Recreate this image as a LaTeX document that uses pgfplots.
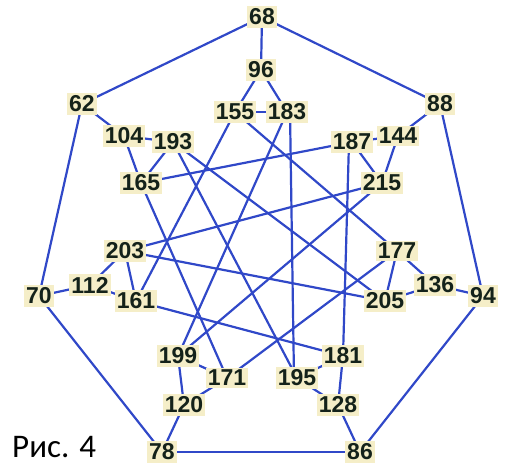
\documentclass[border=0pt]{standalone}
\usepackage{fontspec}
\setmainfont{Liberation Sans}
\newfontfamily\capfont{Carlito}
\usepackage{pgfplots}
\pgfplotsset{compat=1.18}
\usepackage{pgfplotstable}
\definecolor{edgeblue}{RGB}{48,72,200}
\definecolor{labfill}{RGB}{245,238,200}
\definecolor{labtext}{RGB}{20,34,26}
\pgfplotstableread{
x y lab
262 17 68
261 70 96
82 104 62
440 104 88
235 112 155
287 112 183
124 136 104
173 142 193
352 142 187
398 136 144
141 183 165
382 183 215
125 251 203
397 251 177
90 285 112
435 285 136
39 296 70
483 296 94
136 301 161
385 301 205
178 356 199
343 356 181
227 378 171
297 378 195
184 405 120
338 405 128
162 452 78
360 452 86
}\nodes
\begin{document}
\begin{tikzpicture}
\begin{axis}[
  scale only axis, width=505pt, height=465pt,
  xmin=0, xmax=505, ymin=0, ymax=465, y dir=reverse,
  hide axis, clip=false,
  edge/.style={line width=2.2pt, color=edgeblue, mark=none, solid},
]
\draw[draw=none] (axis cs:0,0) rectangle (axis cs:505,465);
% outer cycle
\addplot[edge] coordinates {(262,17) (440,104)};
\addplot[edge] coordinates {(440,104) (483,296)};
\addplot[edge] coordinates {(483,296) (360,452)};
\addplot[edge] coordinates {(360,452) (162,452)};
\addplot[edge] coordinates {(162,452) (39,296)};
\addplot[edge] coordinates {(39,296) (82,104)};
\addplot[edge] coordinates {(82,104) (262,17)};
% spokes
\addplot[edge] coordinates {(262,17) (261,70)};
\addplot[edge] coordinates {(440,104) (398,136)};
\addplot[edge] coordinates {(483,296) (435,285)};
\addplot[edge] coordinates {(360,452) (338,405)};
\addplot[edge] coordinates {(162,452) (184,405)};
\addplot[edge] coordinates {(39,296) (90,285)};
\addplot[edge] coordinates {(82,104) (124,136)};
% triangles
\addplot[edge] coordinates {(261,70) (235,112)};
\addplot[edge] coordinates {(261,70) (287,112)};
\addplot[edge] coordinates {(235,112) (287,112)};
\addplot[edge] coordinates {(398,136) (352,142)};
\addplot[edge] coordinates {(398,136) (382,183)};
\addplot[edge] coordinates {(352,142) (382,183)};
\addplot[edge] coordinates {(435,285) (397,251)};
\addplot[edge] coordinates {(435,285) (385,301)};
\addplot[edge] coordinates {(397,251) (385,301)};
\addplot[edge] coordinates {(338,405) (343,356)};
\addplot[edge] coordinates {(338,405) (297,378)};
\addplot[edge] coordinates {(343,356) (297,378)};
\addplot[edge] coordinates {(184,405) (227,378)};
\addplot[edge] coordinates {(184,405) (178,356)};
\addplot[edge] coordinates {(227,378) (178,356)};
\addplot[edge] coordinates {(90,285) (136,301)};
\addplot[edge] coordinates {(90,285) (125,251)};
\addplot[edge] coordinates {(136,301) (125,251)};
\addplot[edge] coordinates {(124,136) (141,183)};
\addplot[edge] coordinates {(124,136) (173,142)};
\addplot[edge] coordinates {(141,183) (173,142)};
% step-2 cycle
\addplot[edge] coordinates {(235,112) (397,251)};
\addplot[edge] coordinates {(397,251) (227,378)};
\addplot[edge] coordinates {(227,378) (141,183)};
\addplot[edge] coordinates {(141,183) (352,142)};
\addplot[edge] coordinates {(349,142) (343,356)};
\addplot[edge] coordinates {(343,356) (136,301)};
\addplot[edge] coordinates {(136,301) (235,112)};
% step-3 cycle
\addplot[edge] coordinates {(290,112) (294,378)};
\addplot[edge] coordinates {(297,378) (173,142)};
\addplot[edge] coordinates {(173,142) (385,301)};
\addplot[edge] coordinates {(385,301) (125,251)};
\addplot[edge] coordinates {(125,251) (382,183)};
\addplot[edge] coordinates {(382,183) (178,356)};
\addplot[edge] coordinates {(178,356) (287,112)};
% labels
\addplot[draw=none, mark=none, nodes near coords, point meta=explicit symbolic,
  nodes near coords style={anchor=center, fill=labfill, text=labtext,
    inner xsep=2pt, inner ysep=2.5pt, font=\fontsize{23}{25}\selectfont\bfseries}]
  table[x=x, y=y, meta=lab] {\nodes};
\node[anchor=base west, inner sep=0pt, font=\capfont\fontsize{33}{36}\selectfont, text=black]
  at (axis cs:12,457) {Рис. 4};
\end{axis}
\end{tikzpicture}
\end{document}
